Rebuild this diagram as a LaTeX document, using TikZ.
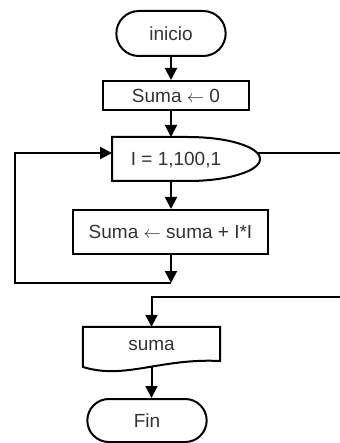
\documentclass[tikz,border=0pt]{standalone}
\usepackage{fontspec}
\setmainfont{Liberation Sans}
\usepackage{tikz}
\usetikzlibrary{shapes.misc, arrows.meta, calc}
\tikzset{
  term/.style={rounded rectangle, draw=black, line width=2pt, fill=white,
               minimum height=45pt, font=\fontsize{19}{21}\selectfont,
               text=black!80},
  proc/.style={rectangle, draw=black, line width=2pt, fill=white,
               align=center, font=\fontsize{19}{21}\selectfont, text=black!80},
  txt/.style={font=\fontsize{19}{21}\selectfont, text=black!80},
  shp/.style={draw=black, line width=2pt, fill=white},
  arr/.style={-{Triangle[length=12pt, width=12pt]}, line width=2pt},
}

\begin{document}
\begin{tikzpicture}[x=1pt, y=-1pt]
  \useasboundingbox (0,0) rectangle (339,443);

  \node[term, minimum width=116pt] (ini) at (171,33.5) {inicio};
  \node[proc, minimum width=146pt, minimum height=29pt] (s0) at (176,95.5)
    {Suma $\leftarrow$ 0};

  % loop header: flat left part, half ellipse on the right
  \coordinate (lpNW) at (112,137);
  \coordinate (lpSW) at (112,181);
  \coordinate (lpin) at (112,153);
  \coordinate (lpout) at (257,153);
  \draw[shp] (lpNW) -- (188,137)
    arc[start angle=-90, end angle=90, x radius=72, y radius=22]
    -- (lpSW) -- cycle;
  \node[txt] (hdr) at (176,160) {I = 1,100,1};

  \node[proc, minimum width=195pt, minimum height=44pt] (s1) at (170.5,232)
    {Suma $\leftarrow$ suma + I*I};
  \coordinate (join) at (171,283);

  % output (document shape)
  \node[minimum width=137pt, minimum height=40pt] (out) at (151.5,347) {};
  \draw[shp] (out.north west) -- (out.north east) -- (220,361)
    .. controls (160,358) and (125,380) .. (83,367) -- cycle;
  \node[txt] at (out) [yshift=2pt] {suma};

  \node[term, minimum width=126pt, minimum height=43pt] (fin) at (147,420.5) {Fin};

  \draw[arr] (ini.south) -- (ini.south |- s0.north);
  \draw[arr] (s0.south -| ini) -- (ini |- lpNW);
  \draw[arr] (ini |- lpSW) -- (ini |- s1.north);
  \draw[arr] (s1.south -| ini) -- (join);
  \draw[arr] (join) -- ++(-156,0) |- (lpin);
  \draw[arr] (lpout) -- (341,153) -- (341,297) -| (out.north);
  \draw[arr] (out.south) -- (out.south |- fin.north);
\end{tikzpicture}
\end{document}
